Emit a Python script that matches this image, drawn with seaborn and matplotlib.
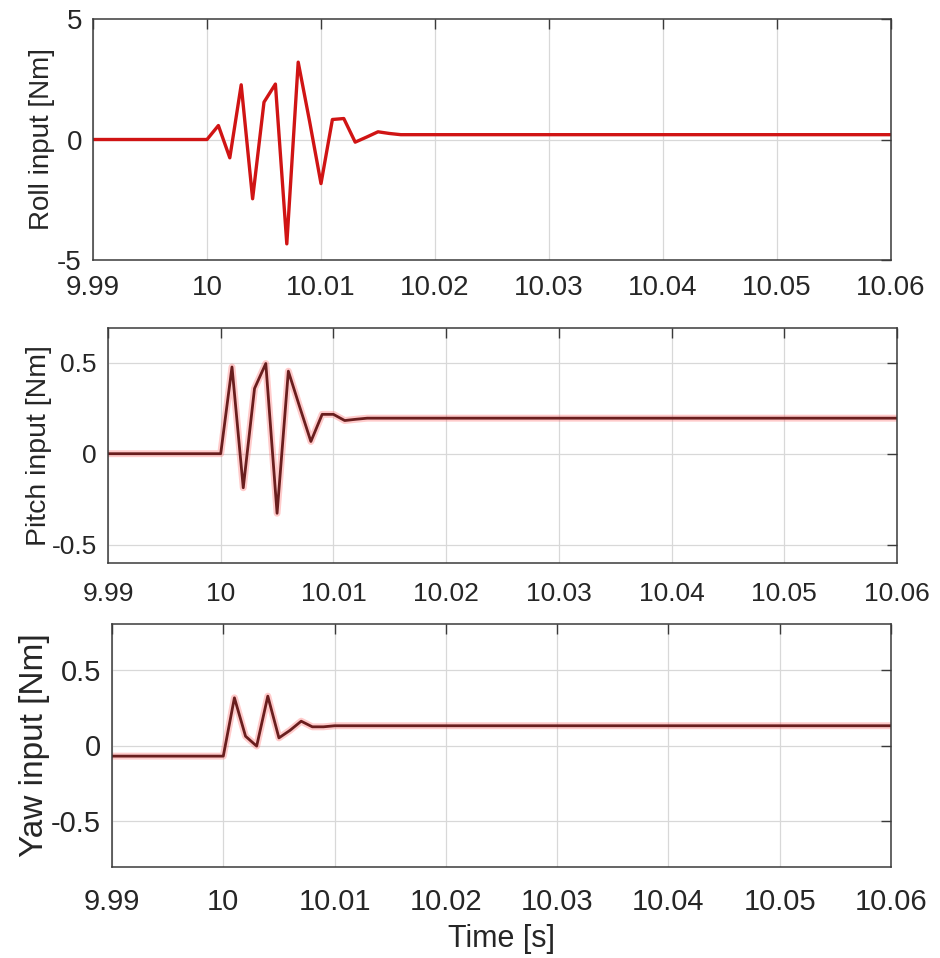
import numpy as np
import pandas as pd
import matplotlib
matplotlib.use("Agg")
import matplotlib.pyplot as plt
import matplotlib.patheffects as pe
import seaborn as sns

# Time samples (s) of the controller inputs around the disturbance at t = 10 s
roll_time = [9.99, 10.0, 10.001, 10.002, 10.003, 10.004, 10.005, 10.006, 10.007,
             10.008, 10.009, 10.010, 10.011, 10.012, 10.013, 10.014, 10.015,
             10.016, 10.017, 10.06]
roll_input = [0.0, 0.0, 0.58, -0.76, 2.27, -2.46, 1.55, 2.30, -4.33,
              3.21, 0.75, -1.83, 0.83, 0.87, -0.11, 0.10, 0.32,
              0.25, 0.20, 0.20]

pitch_time = [9.99, 10.0, 10.001, 10.002, 10.003, 10.004, 10.005, 10.006,
              10.007, 10.008, 10.009, 10.010, 10.011, 10.012, 10.013, 10.06]
pitch_input = [0.0, 0.0, 0.476, -0.187, 0.358, 0.495, -0.327, 0.453,
               0.258, 0.067, 0.216, 0.216, 0.182, 0.189, 0.195, 0.195]

yaw_time = [9.99, 10.0, 10.001, 10.002, 10.003, 10.004, 10.005, 10.006,
            10.007, 10.008, 10.009, 10.010, 10.06]
yaw_input = [-0.07, -0.07, 0.314, 0.061, -0.004, 0.325, 0.05, 0.10,
             0.16, 0.123, 0.123, 0.13, 0.13]

x_ticks = [9.99, 10.0, 10.01, 10.02, 10.03, 10.04, 10.05, 10.06]
x_ticklabels = ["9.99", "10", "10.01", "10.02", "10.03", "10.04", "10.05", "10.06"]

sns.set_theme(style="white")
plt.rcParams["font.family"] = ["Liberation Sans", "DejaVu Sans"]

W, H = 940, 958
fig = plt.figure(figsize=(W / 100, H / 100), dpi=100)


def axes_px(left, top, right, bottom):
    return fig.add_axes([left / W, 1 - bottom / H, (right - left) / W, (bottom - top) / H])


FRAME = "#3a3a3a"
TEXT = "#262626"


def style_axes(ax, yticks, yticklabels, ylim, fs, xpad, ygrid):
    ax.set_xlim(9.99, 10.06)
    ax.set_ylim(*ylim)
    ax.set_xticks(x_ticks)
    ax.set_xticklabels(x_ticklabels)
    ax.set_yticks(yticks)
    ax.set_yticklabels(yticklabels)
    ax.tick_params(direction="in", length=7, width=1, colors=FRAME,
                   top=True, right=True, labelsize=fs, labelcolor=TEXT)
    ax.tick_params(axis="x", pad=xpad)
    ax.tick_params(axis="y", pad=8)
    ax.grid(True, axis="x", color="#d8d8d8", linewidth=0.9)
    if ygrid:
        ax.grid(True, axis="y", color="#d8d8d8", linewidth=0.9)
    for s in ax.spines.values():
        s.set_visible(True)
        s.set_color(FRAME)
        s.set_linewidth(1.1)
    ax.set_xlabel("")
    ax.set_facecolor("white")


# Roll
ax1 = axes_px(93, 19, 891, 260)
df_roll = pd.DataFrame({"t": roll_time, "v": roll_input})
sns.lineplot(data=df_roll, x="t", y="v", ax=ax1, color="#d01414", linewidth=2.4)
style_axes(ax1, [-5, 0, 5], ["-5", "0", "5"], (-5, 5), 20, 11, False)
ax1.axhline(0, color="#d8d8d8", linewidth=0.9, zorder=0)
ax1.set_ylabel("Roll input [Nm]", fontsize=20, color=TEXT)

glow = [pe.Stroke(linewidth=5, foreground="#ff6b6b", alpha=0.35), pe.Normal()]

# Pitch
ax2 = axes_px(108, 328, 897, 563)
df_pitch = pd.DataFrame({"t": pitch_time, "v": pitch_input})
sns.lineplot(data=df_pitch, x="t", y="v", ax=ax2, color="#6a1e1e", linewidth=2.0,
             path_effects=glow)
style_axes(ax2, [-0.5, 0, 0.5], ["-0.5", "0", "0.5"], (-0.6, 0.69), 19, 14, True)
ax2.set_ylabel("Pitch input [Nm]", fontsize=20.5, color=TEXT)

# Yaw
ax3 = axes_px(112, 624, 891, 867)
df_yaw = pd.DataFrame({"t": yaw_time, "v": yaw_input})
sns.lineplot(data=df_yaw, x="t", y="v", ax=ax3, color="#6a1e1e", linewidth=2.0,
             path_effects=glow)
style_axes(ax3, [-0.5, 0, 0.5], ["-0.5", "0", "0.5"], (-0.8, 0.8), 21, 15, True)
ax3.set_ylabel("Yaw input [Nm]", fontsize=24, color=TEXT)
ax3.set_xlabel("Time [s]", fontsize=22, color=TEXT, labelpad=6)

# place each y-label so its right edge sits at a fixed figure x position
for ax, xr in ((ax1, 55), (ax2, 52), (ax3, 50)):
    bb = ax.get_position()
    ax.yaxis.set_label_coords((xr / W - bb.x0) / bb.width, 0.5)

fig.savefig("out.png", dpi=100, facecolor="white")
